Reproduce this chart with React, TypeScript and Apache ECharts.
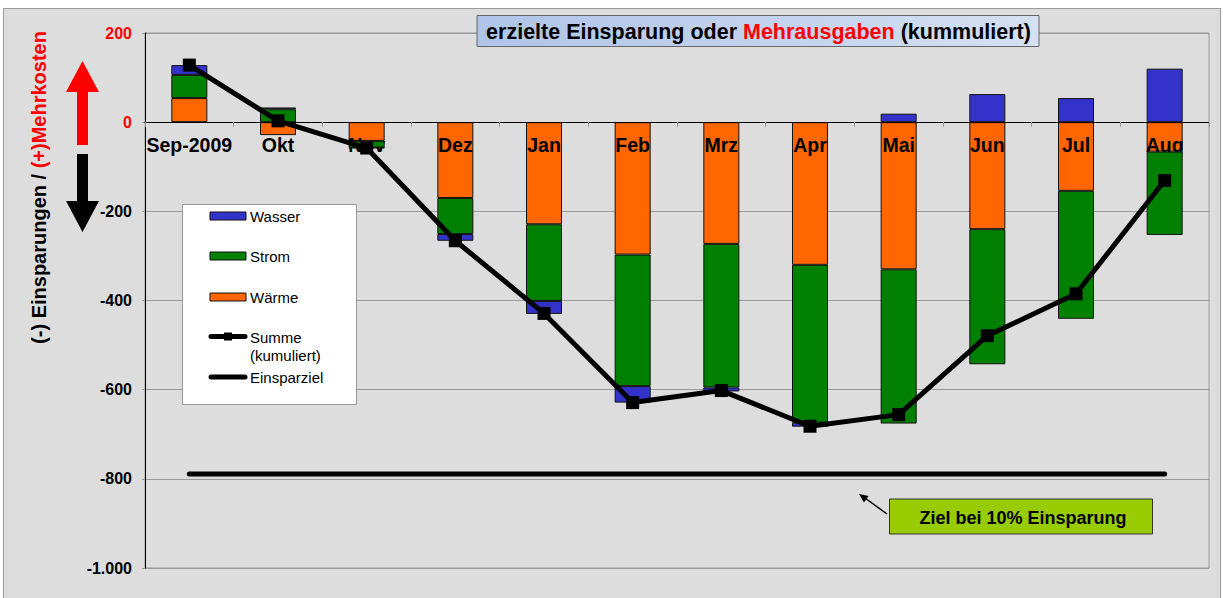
import React, { useEffect, useRef } from "react";
import * as echarts from "echarts";

const categories = ["Sep-2009", "Okt", "Nov", "Dez", "Jan", "Feb", "Mrz", "Apr", "Mai", "Jun", "Jul", "Aug"];
const waerme = [54, -29, -42, -170, -229, -297, -273, -320, -330, -240, -154, -66];
const strom = [52, 29, -15, -81, -172, -295, -322, -354, -346, -303, -287, -187];
const wasser = [22, 4, -1, -15, -29, -37, -9, -9, 19, 63, 54, 120];
const summe = [128, 3, -58, -266, -429, -629, -602, -682, -656, -479, -385, -131];
const einsparziel = [-789, -789, -789, -789, -789, -789, -789, -789, -789, -789, -789, -789];
const yMin = -1000;
const yMax = 200;
const yStep = 200;

const FONT = "'Liberation Sans', Arial, sans-serif";
const C_WASSER = "#3333CC";
const C_STROM = "#008000";
const C_WAERME = "#FF6600";

function fmt(v: number): string {
  const s = String(Math.abs(v)).replace(/\B(?=(\d{3})+(?!\d))/g, ".");
  return (v < 0 ? "-" : "") + s;
}

export default function App() {
  const ref = useRef<HTMLDivElement>(null);
  useEffect(() => {
    if (!ref.current) return;
    const chart = echarts.init(ref.current, undefined, { renderer: "svg" });
    const barBase = {
      type: "bar",
      stack: "total",
      barWidth: 36,
    };
    const legendText = (x: number, y: number, t: string) => ({
      type: "text",
      x,
      y,
      z: 100,
      style: { text: t, fontFamily: FONT, fontSize: 15, fill: "#000", textVerticalAlign: "middle" },
    });
    const legendRect = (y: number, c: string) => ({
      type: "rect",
      z: 100,
      shape: { x: 210, y, width: 36, height: 8 },
      style: { fill: c, stroke: "#111", lineWidth: 1 },
    });
    chart.setOption({
      animation: false,
      grid: {
        left: 145,
        right: 14,
        top: 33,
        bottom: 30,
        show: true,
        borderColor: "#999",
        borderWidth: 1,
        backgroundColor: "transparent",
      },
      xAxis: {
        type: "category",
        data: categories,
        z: 2,
        offset: -446,
        axisLine: { onZero: false, lineStyle: { color: "#000", width: 1 } },
        axisTick: { show: true, length: 5, lineStyle: { color: "#999" } },
        axisLabel: {
          interval: 0,
          margin: 13,
          fontFamily: FONT,
          fontWeight: "bold",
          fontSize: 19.5,
          color: "#000",
        },
      },
      yAxis: {
        type: "value",
        min: yMin,
        max: yMax,
        interval: yStep,
        z: 0,
        axisLine: { show: true, lineStyle: { color: "#000", width: 1 } },
        axisTick: { show: true, length: 3, lineStyle: { color: "#999" } },
        splitLine: { show: true, lineStyle: { color: "#999", width: 1 } },
        axisLabel: {
          margin: 13,
          fontFamily: FONT,
          fontWeight: "bold",
          fontSize: 16,
          formatter: (v: number) => fmt(v),
          color: (v: any) => (Number(v) >= 0 ? "#FF0000" : "#000"),
        },
      },
      series: [
        {
          ...barBase,
          name: "Wärme",
          data: waerme,
          z: 1,
          itemStyle: { color: C_WAERME, borderColor: "#111", borderWidth: 1 },
        },
        {
          ...barBase,
          name: "Strom",
          data: strom,
          z: 3,
          itemStyle: { color: C_STROM, borderColor: "#111", borderWidth: 1 },
        },
        {
          ...barBase,
          name: "Wasser",
          data: wasser,
          z: 3,
          itemStyle: { color: C_WASSER, borderColor: "#111", borderWidth: 1 },
        },
        {
          type: "line",
          name: "Einsparziel",
          data: einsparziel,
          z: 4,
          symbol: "none",
          lineStyle: { color: "#000", width: 5, cap: "round" },
        },
        {
          type: "line",
          name: "Summe (kumuliert)",
          data: summe,
          z: 5,
          symbol: "rect",
          symbolSize: 13,
          itemStyle: { color: "#000" },
          lineStyle: { color: "#000", width: 5 },
        },
      ],
      graphic: [
        // y axis name
        {
          type: "text",
          x: 39,
          y: 187.5,
          rotation: Math.PI / 2,
          z: 100,
          style: {
            text: "{a|(-) Einsparungen / }{b|(+)Mehrkosten}",
            textAlign: "center",
            textVerticalAlign: "middle",
            rich: {
              a: { fontFamily: FONT, fontWeight: "bold", fontSize: 20, fill: "#000" },
              b: { fontFamily: FONT, fontWeight: "bold", fontSize: 20, fill: "#FF0000" },
            },
          },
        },
        // red arrow up
        {
          type: "polygon",
          z: 100,
          shape: { points: [[82.5, 61], [99, 92], [88, 92], [88, 145], [77, 145], [77, 92], [66, 92]] },
          style: { fill: "#FF0000" },
        },
        // black arrow down
        {
          type: "polygon",
          z: 100,
          shape: { points: [[77, 154], [88, 154], [88, 201], [99, 201], [82.5, 232], [66, 201], [77, 201]] },
          style: { fill: "#000" },
        },
        // title box
        {
          type: "rect",
          z: 100,
          shape: { x: 477, y: 15.5, width: 562, height: 31 },
          style: {
            fill: new echarts.graphic.LinearGradient(0, 0, 1, 0, [
              { offset: 0, color: "#AFC4E8" },
              { offset: 1, color: "#D5E0F2" },
            ]),
            stroke: "#666",
            lineWidth: 1,
          },
        },
        {
          type: "text",
          x: 758.5,
          y: 32,
          z: 101,
          style: {
            text: "{a|erzielte Einsparung oder }{b|Mehrausgaben}{a| (kummuliert)}",
            textAlign: "center",
            textVerticalAlign: "middle",
            rich: {
              a: { fontFamily: FONT, fontWeight: "bold", fontSize: 21.5, fill: "#000" },
              b: { fontFamily: FONT, fontWeight: "bold", fontSize: 21.5, fill: "#FF0000" },
            },
          },
        },
        // legend box
        {
          type: "rect",
          z: 99,
          shape: { x: 182.5, y: 204.5, width: 174, height: 200 },
          style: { fill: "#FFFFFF", stroke: "#999", lineWidth: 1 },
        },
        legendRect(212, C_WASSER),
        legendText(250, 216.5, "Wasser"),
        legendRect(252, C_STROM),
        legendText(250, 256.5, "Strom"),
        legendRect(293, C_WAERME),
        legendText(250, 297.5, "Wärme"),
        {
          type: "line",
          z: 100,
          shape: { x1: 211, y1: 336.5, x2: 245, y2: 336.5 },
          style: { stroke: "#000", lineWidth: 5, lineCap: "round" },
        },
        {
          type: "rect",
          z: 101,
          shape: { x: 224, y: 332.5, width: 8, height: 8 },
          style: { fill: "#000" },
        },
        legendText(250, 337, "Summe"),
        legendText(250, 355, "(kumuliert)"),
        {
          type: "line",
          z: 100,
          shape: { x1: 211, y1: 377, x2: 245, y2: 377 },
          style: { stroke: "#000", lineWidth: 5, lineCap: "round" },
        },
        legendText(250, 377.5, "Einsparziel"),
        // target annotation
        {
          type: "rect",
          z: 100,
          shape: { x: 889.5, y: 499, width: 263, height: 35 },
          style: { fill: "#99CC00", stroke: "#333", lineWidth: 1 },
        },
        {
          type: "text",
          x: 1023,
          y: 518,
          z: 101,
          style: {
            text: "Ziel bei 10% Einsparung",
            fontFamily: FONT,
            fontWeight: "bold",
            fontSize: 18,
            fill: "#000",
            textAlign: "center",
            textVerticalAlign: "middle",
          },
        },
        {
          type: "line",
          z: 100,
          shape: { x1: 887, y1: 514, x2: 865, y2: 498 },
          style: { stroke: "#000", lineWidth: 1.5 },
        },
        {
          type: "polygon",
          z: 100,
          shape: { points: [[859, 494], [868.6, 495.9], [864, 502.5]] },
          style: { fill: "#000" },
        },
      ],
    });
    return () => chart.dispose();
  }, []);

  return (
    <div style={{ position: "absolute", left: 0, top: 0, width: 1223, height: 598, background: "#FFFFFF", overflow: "hidden" }}>
      <div
        style={{
          position: "absolute",
          left: 3,
          top: 8,
          width: 1216,
          height: 600,
          background: "#DDDDDD",
          border: "1px solid #999",
        }}
      />
      <div ref={ref} style={{ position: "absolute", left: 0, top: 0, width: 1223, height: 598 }} />
    </div>
  );
}
